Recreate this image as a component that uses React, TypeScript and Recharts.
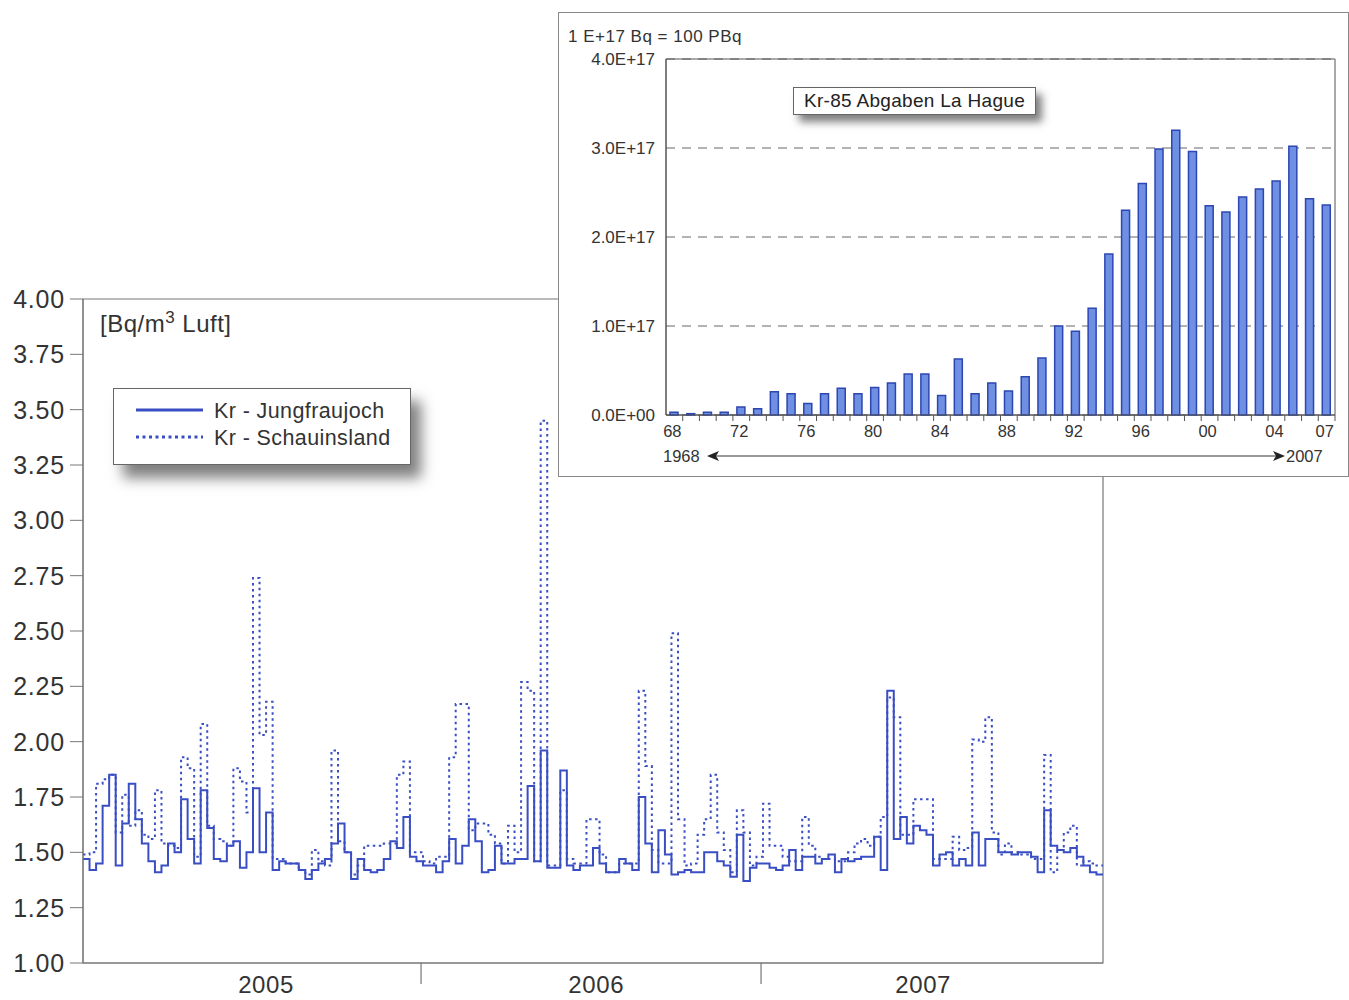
import React from 'react';
import { LineChart, Line, XAxis, YAxis, ReferenceArea, BarChart, Bar, CartesianGrid } from 'recharts';

// weekly Kr-85 activity 2005-2007, Bq/m3 air
const jungfraujoch = [
  1.47, 1.42, 1.45, 1.71, 1.85, 1.44, 1.63, 1.81, 1.65, 1.54,
  1.46, 1.41, 1.44, 1.54, 1.5, 1.74, 1.56, 1.45, 1.78, 1.61,
  1.47, 1.46, 1.53, 1.55, 1.43, 1.5, 1.79, 1.5, 1.68, 1.42,
  1.46, 1.45, 1.45, 1.42, 1.38, 1.42, 1.45, 1.47, 1.54, 1.63,
  1.5, 1.38, 1.47, 1.42, 1.41, 1.42, 1.47, 1.55, 1.52, 1.66, 1.48,
  1.46, 1.44, 1.44, 1.41, 1.46, 1.56, 1.45, 1.53, 1.65, 1.55,
  1.41, 1.42, 1.53, 1.45, 1.45, 1.47, 1.47, 1.8, 1.46, 1.96,
  1.43, 1.43, 1.87, 1.44, 1.42, 1.44, 1.44, 1.52, 1.45, 1.41,
  1.41, 1.47, 1.45, 1.42, 1.75, 1.54, 1.41, 1.6, 1.49, 1.4,
  1.41, 1.42, 1.41, 1.41, 1.5, 1.5, 1.46, 1.44, 1.39, 1.58,
  1.37, 1.43, 1.45, 1.45, 1.43, 1.42, 1.44, 1.51, 1.42, 1.48, 1.48,
  1.45, 1.47, 1.49, 1.41, 1.47, 1.46, 1.47, 1.48, 1.48, 1.57,
  1.42, 2.23, 1.56, 1.66, 1.54, 1.62, 1.6, 1.58, 1.44, 1.49,
  1.5, 1.44, 1.47, 1.44, 1.59, 1.44, 1.56, 1.56, 1.5,
  1.5, 1.49, 1.5, 1.5, 1.48, 1.41, 1.69, 1.53, 1.51,
  1.5, 1.52, 1.48, 1.44, 1.41, 1.4,
];
const schauinsland = [
  1.49, 1.5, 1.81, 1.83, 1.85, 1.59, 1.76, 1.62, 1.69, 1.58,
  1.56, 1.78, 1.54, 1.53, 1.52, 1.93, 1.88, 1.48, 2.08, 1.62,
  1.56, 1.55, 1.53, 1.88, 1.82, 1.68, 2.74, 2.03, 2.18, 1.47,
  1.47, 1.45, 1.45, 1.42, 1.4, 1.51, 1.46, 1.44, 1.96, 1.55,
  1.5, 1.4, 1.44, 1.53, 1.53, 1.53, 1.54, 1.54, 1.85, 1.91, 1.5,
  1.5, 1.46, 1.45, 1.48, 1.48, 1.93, 2.17, 2.17, 1.6, 1.63,
  1.63, 1.58, 1.54, 1.45, 1.62, 1.5, 2.27, 2.23, 1.46, 3.45,
  1.44, 1.44, 1.78, 1.47, 1.45, 1.45, 1.65, 1.65, 1.49, 1.41,
  1.41, 1.45, 1.45, 1.45, 2.23, 1.89, 1.51, 1.45, 1.45, 2.49,
  1.65, 1.44, 1.45, 1.58, 1.65, 1.85, 1.59, 1.51, 1.41, 1.69,
  1.59, 1.44, 1.48, 1.72, 1.53, 1.53, 1.48, 1.46, 1.46, 1.66, 1.53,
  1.48, 1.47, 1.47, 1.46, 1.46, 1.5, 1.54, 1.56, 1.53, 1.57,
  1.66, 2.2, 2.11, 1.58, 1.58, 1.74, 1.74, 1.74, 1.47, 1.47,
  1.47, 1.57, 1.51, 1.52, 2.01, 2.0, 2.11, 1.59, 1.49,
  1.54, 1.5, 1.49, 1.49, 1.47, 1.47, 1.94, 1.41, 1.51,
  1.59, 1.62, 1.44, 1.46, 1.45, 1.44,
];
const years = ['2005', '2006', '2007'];
const yearLabelWeeks = [28, 78.5, 128.5];
const yearBoundaryWeeks = [51.7, 103.7];
const yTicks = [1, 1.25, 1.5, 1.75, 2, 2.25, 2.5, 2.75, 3, 3.25, 3.5, 3.75, 4];

// La Hague Kr-85 releases, units of 1E+17 Bq
const haguYears = Array.from({ length: 40 }, (_, i) => 1968 + i);
const haguRelease = [
  0.03, 0.015, 0.03, 0.03, 0.09, 0.07, 0.26, 0.24, 0.13, 0.24,
  0.3, 0.24, 0.31, 0.36, 0.46, 0.46, 0.22, 0.63, 0.24, 0.36,
  0.27, 0.43, 0.64, 1.0, 0.94, 1.2, 1.81, 2.3, 2.6, 2.99,
  3.2, 2.96, 2.35, 2.28, 2.45, 2.54, 2.63, 3.02, 2.43, 2.36,
];
const haguTicks = [0, 1, 2, 3, 4];
const haguLabelYears = [1968, 1972, 1976, 1980, 1984, 1988, 1992, 1996, 2000, 2004, 2007];

const FONT = '"Liberation Sans", Arial, sans-serif';
const BLUE = '#3a4ec4';
const AXIS = '#777';

const N = jungfraujoch.length;
const weekly = [
  ...jungfraujoch.map((j, i) => ({ w: i, j, s: schauinsland[i] })),
  { w: N, j: jungfraujoch[N - 1], s: schauinsland[N - 1] },
];
const hague = haguYears.map((y, i) => ({ year: y, v: haguRelease[i] }));

const INSET_W = 791;
const INSET_H = 465;
const INSET_M = { top: 47, right: 14, left: 0, bottom: 0 };
const INSET_BAND = (INSET_W - 108 - INSET_M.right) / haguYears.length;

function YearTick(props: any) {
  const { x, y, payload } = props;
  const v = payload.value;
  if (yearBoundaryWeeks.includes(v)) {
    return <line x1={x} y1={y} x2={x} y2={y + 21} stroke={AXIS} strokeWidth={1.2} />;
  }
  const idx = yearLabelWeeks.indexOf(v);
  return (
    <text x={x} y={y + 30} textAnchor="middle" fontSize={24} letterSpacing={0.6} fill="#333" fontFamily={FONT}>
      {years[idx]}
    </text>
  );
}

function HaguTick(props: any) {
  const { x, y, payload } = props;
  const yr = payload.value as number;
  const show = haguLabelYears.includes(yr);
  return (
    <g>
      <line x1={x + INSET_BAND / 2} y1={y} x2={x + INSET_BAND / 2} y2={y + 6} stroke="#555" />
      {show && (
        <text x={x - 2} y={y + 22} textAnchor="middle" fontSize={16.5} fill="#333" fontFamily={FONT}>
          {String(yr).slice(2)}
        </text>
      )}
    </g>
  );
}

function MainChart() {
  return (
    <LineChart
      width={1110}
      height={1000}
      data={weekly}
      margin={{ top: 299, right: 7, bottom: 0, left: 0 }}
    >
      <ReferenceArea x1={0} x2={N} y1={1} y2={4} fill="none" stroke={AXIS} strokeWidth={1.2} />
      <XAxis
        dataKey="w"
        type="number"
        domain={[0, N]}
        ticks={[...yearBoundaryWeeks, ...yearLabelWeeks]}
        interval={0}
        tick={<YearTick />}
        tickLine={false}
        tickSize={0}
        tickMargin={0}
        height={37}
        axisLine={{ stroke: AXIS, strokeWidth: 1.2 }}
      />
      <YAxis
        domain={[1, 4]}
        ticks={yTicks}
        interval={0}
        width={83}
        tickSize={13}
        tickMargin={5}
        tickFormatter={(v: number) => v.toFixed(2)}
        tick={{ fontSize: 25, fill: '#333', fontFamily: FONT, letterSpacing: 0.8 }}
        stroke={AXIS}
      />
      <Line
        dataKey="s"
        type="stepAfter"
        stroke={BLUE}
        strokeWidth={2}
        strokeDasharray="2.5 3.5"
        dot={false}
        isAnimationActive={false}
      />
      <Line
        dataKey="j"
        type="stepAfter"
        stroke={BLUE}
        strokeWidth={2}
        dot={false}
        isAnimationActive={false}
      />
    </LineChart>
  );
}

function HagueInset() {
  return (
    <div
      style={{
        position: 'absolute',
        left: 558,
        top: 12,
        width: INSET_W,
        height: INSET_H,
        background: '#fff',
        border: '1px solid #888',
        boxSizing: 'border-box',
      }}
    >
      <div style={{ position: 'absolute', left: -1, top: -1 }}>
        <BarChart width={INSET_W} height={INSET_H} data={hague} margin={INSET_M} barSize={8}>
          <CartesianGrid vertical={false} stroke="#666" strokeDasharray="9 7" />
          <ReferenceArea y1={0} y2={4} fill="none" stroke="#555" strokeWidth={1} />
          <XAxis
            dataKey="year"
            interval={0}
            height={62}
            tickLine={false}
            tickSize={0}
            tickMargin={0}
            tick={<HaguTick />}
            axisLine={{ stroke: '#555' }}
          />
          <YAxis
            domain={[0, 4]}
            ticks={haguTicks}
            width={108}
            tickLine={false}
            tickSize={0}
            tickMargin={11}
            tickFormatter={(v: number) => (v === 0 ? '0.0E+00' : `${v.toFixed(1)}E+17`)}
            tick={{ fontSize: 17, fill: '#333', fontFamily: FONT }}
            axisLine={{ stroke: '#555' }}
          />
          <Bar dataKey="v" fill="#6f8fe3" stroke="#2c46b2" strokeWidth={1.5} isAnimationActive={false} />
        </BarChart>
      </div>
      <div style={{ position: 'absolute', left: 9, top: 14, fontSize: 17, letterSpacing: 0.5, color: '#333', fontFamily: FONT }}>
        1 E+17 Bq = 100 PBq
      </div>
      <div
        style={{
          position: 'absolute',
          left: 234,
          top: 74,
          width: 243,
          height: 28,
          boxSizing: 'border-box',
          border: '1px solid #666',
          background: '#fff',
          boxShadow: '6px 7px 8px rgba(0,0,0,0.5)',
          fontSize: 19,
          letterSpacing: 0.3,
          fontFamily: FONT,
          color: '#222',
          lineHeight: '26px',
          textAlign: 'center',
        }}
      >
        Kr-85 Abgaben La Hague
      </div>
      <svg style={{ position: 'absolute', left: 0, top: 430 }} width={INSET_W} height={30}>
        <text x={104} y={19} fontSize={16.5} fill="#333" fontFamily={FONT}>1968</text>
        <line x1={152} y1={13} x2={722} y2={13} stroke="#333" strokeWidth={1} />
        <polygon points="148,13 160,8 157,13 160,18" fill="#222" />
        <polygon points="726,13 714,8 717,13 714,18" fill="#222" />
        <text x={727} y={19} fontSize={16.5} fill="#333" fontFamily={FONT}>2007</text>
      </svg>
    </div>
  );
}

function MainLegend() {
  return (
    <div
      style={{
        position: 'absolute',
        left: 113,
        top: 388,
        width: 298,
        height: 77,
        boxSizing: 'border-box',
        border: '1px solid #666',
        background: '#fff',
        boxShadow: '10px 13px 13px rgba(0,0,0,0.5)',
        fontFamily: FONT,
      }}
    >
      <svg width={296} height={75}>
        <line x1={22} y1={21} x2={89} y2={21} stroke={BLUE} strokeWidth={3} />
        <line x1={22} y1={48} x2={89} y2={48} stroke={BLUE} strokeWidth={3} strokeDasharray="3 3.5" />
        <text x={100} y={29} fontSize={21.5} letterSpacing={0.4} fill="#333">Kr - Jungfraujoch</text>
        <text x={100} y={56} fontSize={21.5} letterSpacing={0.4} fill="#333">Kr - Schauinsland</text>
      </svg>
    </div>
  );
}

export default function App() {
  return (
    <div style={{ position: 'absolute', left: 0, top: 0, width: 1349, height: 1000, background: '#fff', overflow: 'hidden' }}>
      <div style={{ position: 'absolute', left: 0, top: 0 }}>
        <MainChart />
      </div>
      <div style={{ position: 'absolute', left: 100, top: 308, fontSize: 24, letterSpacing: 0.5, color: '#333', fontFamily: FONT }}>
        [Bq/m<sup style={{ fontSize: 17 }}>3</sup> Luft]
      </div>
      <MainLegend />
      <HagueInset />
    </div>
  );
}
